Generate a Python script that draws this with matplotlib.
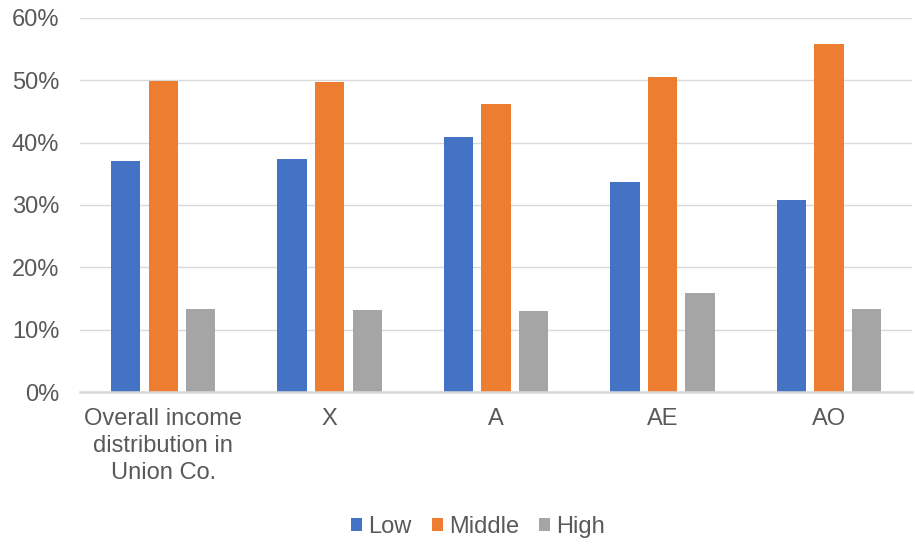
import numpy as np
import matplotlib.pyplot as plt
from matplotlib.ticker import PercentFormatter

plt.rcParams["font.family"] = ["Liberation Sans", "DejaVu Sans"]

# Income distribution shares by area
categories = ["Overall income\ndistribution in\nUnion Co.", "X", "A", "AE", "AO"]
low = [37.1, 37.3, 40.9, 33.7, 30.8]
middle = [49.8, 49.7, 46.2, 50.5, 55.8]
high = [13.3, 13.1, 13.0, 15.9, 13.4]

series = [("Low", low, "#4472C4"), ("Middle", middle, "#ED7D31"), ("High", high, "#A5A5A5")]
text_color = "#595959"

fig = plt.figure(figsize=(9.15, 5.44), dpi=100)
ax = fig.add_axes([0.0874, 0.279, 0.9096, 0.6885])

x = np.arange(len(categories))
step = 0.2254
width = 0.176
for i, (name, vals, color) in enumerate(series):
    ax.bar(x + (i - 1) * step, vals, width=width, color=color, label=name, zorder=3)

ax.set_xlim(-0.5, len(categories) - 0.5)
ax.set_ylim(0, 60)
ax.set_yticks(np.arange(0, 61, 10))
ax.yaxis.set_major_formatter(PercentFormatter(decimals=0))
ax.set_xticks(x)
ax.set_xticklabels(categories, linespacing=1.32)

ax.grid(axis="y", color="#D9D9D9", linewidth=1.0, zorder=0)
for side in ["top", "right", "left"]:
    ax.spines[side].set_visible(False)
ax.spines["bottom"].set_color("#D9D9D9")
ax.spines["bottom"].set_linewidth(1.8)
ax.spines["bottom"].set_zorder(4)

ax.tick_params(axis="y", length=0, pad=15, labelsize=17, labelcolor=text_color)
ax.tick_params(axis="x", length=0, pad=11, labelsize=17, labelcolor=text_color)

fig.legend(
    loc="center",
    bbox_to_anchor=(478 / 915, 1 - 527 / 544),
    ncol=3,
    frameon=False,
    fontsize=17,
    labelcolor=text_color,
    handlelength=0.47,
    handleheight=0.5,
    handletextpad=0.25,
    columnspacing=0.85,
)

fig.savefig("out.png", dpi=100)
